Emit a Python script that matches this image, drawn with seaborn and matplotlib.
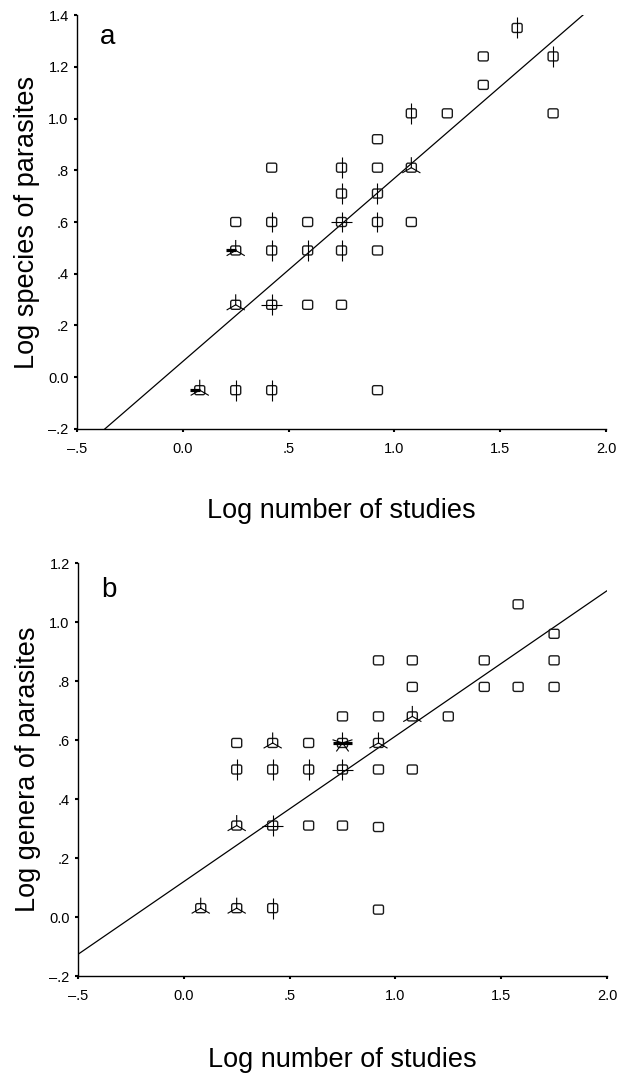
import numpy as np
import matplotlib
matplotlib.use('Agg')
import matplotlib.pyplot as plt
from matplotlib.path import Path
from matplotlib.ticker import MultipleLocator, FuncFormatter
import seaborn as sns

# panel a: one row per plotted position, n = number of overlapping hosts (sunflower petals)
a_x = np.array([0.08, 0.25, 0.25, 0.25, 0.25, 0.42, 0.42, 0.42, 0.42, 0.42,
                0.59, 0.59, 0.59, 0.75, 0.75, 0.75, 0.75, 0.75,
                0.92, 0.92, 0.92, 0.92, 0.92, 0.92, 1.08, 1.08, 1.08,
                1.25, 1.42, 1.42, 1.58, 1.75, 1.75])
a_y = np.array([-0.05, -0.05, 0.28, 0.49, 0.60, -0.05, 0.28, 0.49, 0.60, 0.81,
                0.28, 0.49, 0.60, 0.28, 0.49, 0.60, 0.71, 0.81,
                -0.05, 0.49, 0.60, 0.71, 0.81, 0.92, 0.60, 0.81, 1.02,
                1.02, 1.13, 1.24, 1.35, 1.02, 1.24])
a_n = np.array([3, 2, 3, 3, 1, 2, 4, 2, 2, 1,
                1, 2, 1, 1, 2, 4, 2, 2,
                1, 1, 2, 2, 1, 1, 1, 3, 2,
                1, 1, 1, 2, 1, 2])
a_bold_x = [0.08, 0.25]
a_bold_y = [-0.05, 0.49]
a_fit = (0.061, 0.708)   # intercept, slope of the fitted line as drawn

# panel b
b_x = np.array([0.08, 0.25, 0.25, 0.25, 0.25, 0.42, 0.42, 0.42, 0.42,
                0.59, 0.59, 0.59, 0.75, 0.75, 0.75, 0.75,
                0.92, 0.92, 0.92, 0.92, 0.92, 0.92, 1.08, 1.08, 1.08, 1.08,
                1.25, 1.42, 1.42, 1.58, 1.58, 1.75, 1.75, 1.75])
b_y = np.array([0.03, 0.03, 0.31, 0.50, 0.59, 0.03, 0.31, 0.50, 0.59,
                0.31, 0.50, 0.59, 0.31, 0.50, 0.59, 0.68,
                0.025, 0.305, 0.50, 0.59, 0.68, 0.87, 0.50, 0.68, 0.78, 0.87,
                0.68, 0.78, 0.87, 0.78, 1.06, 0.78, 0.87, 0.96])
b_n = np.array([3, 3, 3, 2, 1, 2, 4, 2, 3,
                1, 2, 1, 1, 4, 5, 1,
                1, 1, 1, 3, 1, 1, 1, 3, 1, 1,
                1, 1, 1, 1, 1, 1, 1, 1])
b_bold_x = [0.75]
b_bold_y = [0.59]
b_fit = (0.12, 0.493)


def rounded_square(w=1.0, h=0.9, r=0.35):
    verts = [(-w + r, -h), (w - r, -h), (w, -h), (w, -h + r), (w, h - r), (w, h), (w - r, h),
             (-w + r, h), (-w, h), (-w, h - r), (-w, -h + r), (-w, -h), (-w + r, -h), (0, 0)]
    codes = [Path.MOVETO, Path.LINETO, Path.CURVE3, Path.CURVE3, Path.LINETO, Path.CURVE3, Path.CURVE3,
             Path.LINETO, Path.CURVE3, Path.CURVE3, Path.LINETO, Path.CURVE3, Path.CURVE3, Path.CLOSEPOLY]
    return Path(verts, codes)


def petals(n):
    verts, codes = [], []
    for k in range(n):
        t = np.deg2rad(90 + 360 * k / n)
        verts += [(0, 0), (np.cos(t), np.sin(t))]
        codes += [Path.MOVETO, Path.LINETO]
    return Path(verts, codes)


def dash(left_only):
    if left_only:
        return Path([(-1, 0), (0, 0)], [Path.MOVETO, Path.LINETO])
    return Path([(-1, 0), (1, 0)], [Path.MOVETO, Path.LINETO])


def spss_fmt(v, pos):
    s = f"{v:.1f}"
    if s in ('0.0', '-0.0'):
        return '0.0'
    if s.startswith('0.'):
        s = s[1:]
    elif s.startswith('-0.'):
        s = '-' + s[2:]
    return s.replace('-', '\u2013')


sns.set_style('ticks')
plt.rcParams['font.family'] = ['Liberation Sans', 'DejaVu Sans']

fig = plt.figure(figsize=(6.18, 10.73), dpi=100)
ax_a = fig.add_axes([0.1246, 0.6002, 0.856, 0.3858])
ax_b = fig.add_axes([0.1262, 0.0904, 0.856, 0.3849])


def draw_panel(ax, xs, ys, ns, bold_x, bold_y, left_dash, fit, ylim, ylabel, letter, letter_y, xlab_y):
    xlim = (-0.5, 2.0)
    line_x = np.array(xlim)
    sns.lineplot(x=line_x, y=fit[0] + fit[1] * line_x, ax=ax, color='black', lw=0.9)

    sns.scatterplot(x=xs, y=ys, ax=ax, marker=rounded_square(), s=52, color='#1a1a1a',
                    facecolor='none', edgecolor='#1a1a1a', linewidth=1.0, legend=False, zorder=3)
    for n in sorted(set(ns)):
        if n < 2:
            continue
        sel = ns == n
        sns.scatterplot(x=xs[sel], y=ys[sel], ax=ax, marker=petals(n), s=228, color='black',
                        facecolor='none', edgecolor='black', linewidth=0.8, legend=False, zorder=4)
    sns.scatterplot(x=bold_x, y=bold_y, ax=ax, marker=dash(left_dash),
                    s=180 if left_dash else 187, color='black', facecolor='none',
                    edgecolor='black', linewidth=2.3, legend=False, zorder=5)

    ax.set_xlim(*xlim)
    ax.set_ylim(*ylim)
    ax.xaxis.set_major_locator(MultipleLocator(0.5))
    ax.yaxis.set_major_locator(MultipleLocator(0.2))
    ax.xaxis.set_major_formatter(FuncFormatter(spss_fmt))
    ax.yaxis.set_major_formatter(FuncFormatter(spss_fmt))
    ax.tick_params(direction='out', length=2.5, width=1.5, labelsize=10.5, colors='black')
    ax.tick_params(axis='x', pad=7)
    ax.tick_params(axis='y', pad=3.5)
    sns.despine(ax=ax)
    for side in ('left', 'bottom'):
        ax.spines[side].set_color('black')
        ax.spines[side].set_linewidth(1.0)

    ax.set_xlabel('Log number of studies', fontsize=19.5, color='black')
    ax.set_ylabel(ylabel, fontsize=19.5, color='black')
    ax.xaxis.set_label_coords(0.5, xlab_y)
    ax.yaxis.set_label_coords(-0.07, 0.5)
    ax.text(0.043, letter_y, letter, transform=ax.transAxes, fontsize=20, va='baseline',
            ha='left', color='black')


draw_panel(ax_a, a_x, a_y, a_n, a_bold_x, a_bold_y, True, a_fit, (-0.2, 1.4),
           'Log species of parasites', 'a', 0.93, -0.166)
draw_panel(ax_b, b_x, b_y, b_n, b_bold_x, b_bold_y, False, b_fit, (-0.2, 1.2),
           'Log genera of parasites', 'b', 0.918, -0.172)

fig.savefig('out.png', dpi=100)
